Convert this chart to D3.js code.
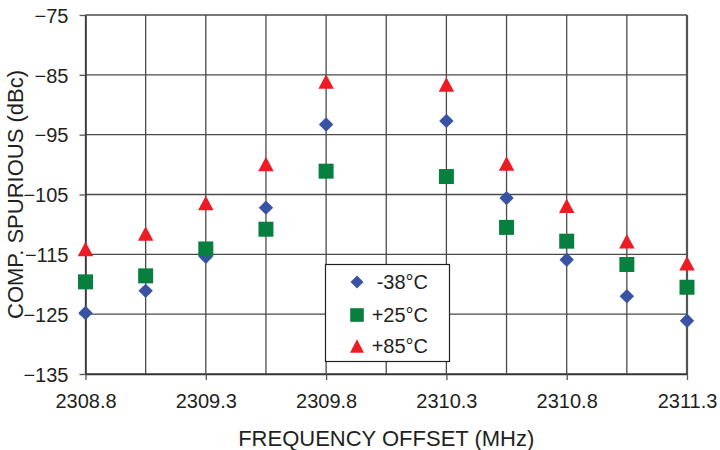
<!DOCTYPE html>
<html><head><meta charset="utf-8">
<script src="https://cdn.jsdelivr.net/npm/d3@7"></script>
<style>html,body{margin:0;padding:0;background:#fff;}svg{display:block;font-family:"Liberation Sans",Arial,sans-serif;}</style>
</head><body>
<svg id="c" width="720" height="450"></svg>
<script>
const freqs = [2308.8, 2309.05, 2309.3, 2309.55, 2309.8, 2310.3, 2310.55, 2310.8, 2311.05, 2311.3];
const minus38 = [-124.8, -121.1, -115.4, -107.2, -93.3, -92.7, -105.6, -115.9, -122.0, -126.1];
const plus25 = [-119.6, -118.6, -114.1, -110.8, -101.1, -102.0, -110.5, -112.8, -116.7, -120.5];
const plus85 = [-114.1, -111.5, -106.4, -99.9, -86.1, -86.6, -99.8, -106.9, -112.8, -116.5];
const seriesNames = ["-38°C", "+25°C", "+85°C"];
const xTicks = [2308.8, 2309.3, 2309.8, 2310.3, 2310.8, 2311.3];
const xGrid = [2308.8, 2309.05, 2309.3, 2309.55, 2309.8, 2310.05, 2310.3, 2310.55, 2310.8, 2311.05, 2311.3];
const yTicks = [-135, -125, -115, -105, -95, -85, -75];
const xTitle = "FREQUENCY OFFSET (MHz)";
const yTitle = "COMP. SPURIOUS (dBc)";

const svg = d3.select("#c");
const L = 85.5, R = 687, T = 15, B = 374;
const x = d3.scaleLinear().domain([2308.8, 2311.3]).range([L, R]);
const y = d3.scaleLinear().domain([-135, -75]).range([B, T]);

function diamond(s){ return `M0,${-s}L${s},0L0,${s}L${-s},0Z`; }
function square(s){ return `M${-s},${-s}H${s}V${s}H${-s}Z`; }
function triangle(w,h){ return `M0,${-h/2}L${w/2},${h/2}L${-w/2},${h/2}Z`; }
const styles = [
  {path: diamond(7.2), color: "#3953a4"},
  {path: square(7.5), color: "#077f3e"},
  {path: triangle(15.5, 14.5), color: "#ed1c24"}
];
const seriesVals = [minus38, plus25, plus85];

const grid = svg.append("g").attr("stroke", "#4a4a4a").attr("stroke-width", 1.3);
grid.selectAll(".h").data(yTicks).enter().append("line")
  .attr("x1", L).attr("x2", R).attr("y1", d => y(d)).attr("y2", d => y(d));
grid.selectAll(".v").data(xGrid).enter().append("line")
  .attr("y1", T).attr("y2", B).attr("x1", d => x(d)).attr("x2", d => x(d));
svg.append("line").attr("x1", R).attr("x2", R).attr("y1", T).attr("y2", B)
  .attr("stroke", "#555").attr("stroke-width", 2.2);

const yAxis = d3.axisLeft(y).tickValues(yTicks).tickSize(6).tickSizeOuter(0).tickPadding(11).tickFormat(d3.format("d"));
const gy = svg.append("g").attr("transform", `translate(${L},0)`).call(yAxis);
const xAxis = d3.axisBottom(x).tickValues(xTicks).tickSize(6).tickSizeOuter(0).tickPadding(14).tickFormat(d3.format(".1f"));
const gx = svg.append("g").attr("transform", `translate(0,${B})`).call(xAxis);
[gy, gx].forEach(g => {
  g.select(".domain").attr("stroke", "#333").attr("stroke-width", 1.5);
  g.selectAll(".tick line").attr("stroke", "#555").attr("stroke-width", 1.3);
  g.selectAll(".tick text").attr("font-size", 20).attr("fill", "#231f20")
   .attr("font-family", '"Liberation Sans",Arial,sans-serif');
});
gy.selectAll(".tick text").attr("dy", "0.36em");

svg.append("text").attr("x", (L + R) / 2).attr("y", 446).attr("text-anchor", "middle")
  .attr("font-size", 22).attr("fill", "#231f20").text(xTitle);
svg.append("text").attr("transform", `translate(23,${(T + B) / 2}) rotate(-90)`).attr("text-anchor", "middle")
  .attr("font-size", 22).attr("fill", "#231f20").text(yTitle);

seriesVals.forEach((vals, i) => {
  svg.append("g").selectAll("path").data(vals).enter().append("path")
    .attr("d", styles[i].path).attr("fill", styles[i].color)
    .attr("transform", (d, j) => `translate(${x(freqs[j])},${y(d)})`);
});

const lg = svg.append("g");
lg.append("rect").attr("x", 325.5).attr("y", 264.5).attr("width", 124).attr("height", 97)
  .attr("fill", "#fff").attr("stroke", "#231f20").attr("stroke-width", 1.2);
const rowsY = [282, 315, 346];
seriesNames.forEach((n, i) => {
  lg.append("path").attr("d", i === 0 ? diamond(6.5) : i === 1 ? square(6.8) : triangle(14, 13.5))
    .attr("fill", styles[i].color).attr("transform", `translate(357,${rowsY[i]})`);
  lg.append("text").attr("x", 428).attr("y", rowsY[i]).attr("dy", "0.36em").attr("text-anchor", "end")
    .attr("font-size", 20).attr("fill", "#231f20").text(n);
});
</script>
</body></html>
